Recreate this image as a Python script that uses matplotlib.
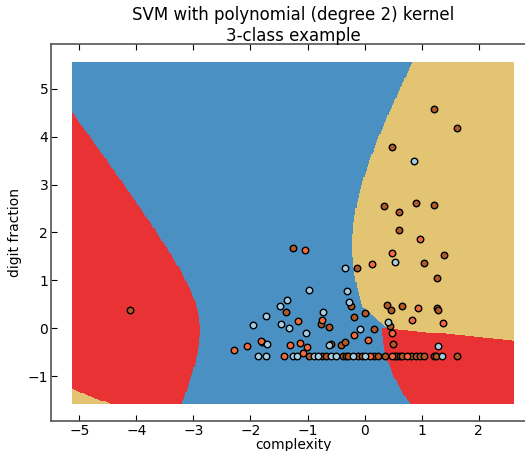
import numpy as np
import matplotlib
matplotlib.use('Agg')
import matplotlib.pyplot as plt
from matplotlib.colors import ListedColormap

# samples per class: complexity (x) / digit fraction (y)
brown_x = [-4.11, -1.38, -1.80, -0.245, -0.77, -0.63, -0.19, 0.015, 0.17, -0.59,
           -0.42, -0.34, 0.40, 0.47, 0.66, 1.27, 1.29, 0.45, 0.50, 1.22,
           1.62, 0.478, 0.349, 0.894, 1.22, 0.606, 0.606, 1.39, 1.045, -0.137,
           1.27, -1.25,
           -0.98, -0.75, -0.68, -0.38, -0.32, -0.29, -0.11, -0.05, 0.167, 0.237,
           0.355, 0.53, 0.565, 0.618, 0.665, 0.82, 0.90, 0.975, 1.045, 1.215,
           1.255, 1.62]
brown_y = [0.38, 0.34, -0.28, 0.46, 0.085, 0.02, 0.24, 0.32, -0.02, -0.32,
           -0.34, -0.29, 0.49, 0.39, 0.47, 0.43, 0.38, 0.05, -0.32, 4.58,
           4.19, 3.78, 2.55, 2.61, 2.58, 2.42, 2.06, 1.53, 1.37, 1.25,
           1.05, 1.68,
           -0.58, -0.58, -0.58, -0.58, -0.58, -0.58, -0.58, -0.58, -0.58, -0.58,
           -0.58, -0.58, -0.58, -0.58, -0.58, -0.58, -0.58, -0.58, -0.58, -0.58,
           -0.58, -0.58]

orange_x = [-1.17, -1.82, -2.06, -2.29, -1.30, -1.13, -0.75, -0.18, 0.056, -1.01,
            -1.08, 0.945, 0.83, 1.37, 0.48, 0.975, 0.483, 0.138, -1.05,
            -1.41, 0.097, 0.478, 0.74]
orange_y = [0.16, -0.27, -0.38, -0.46, -0.36, -0.30, 0.17, -0.15, -0.25, -0.39,
            -0.51, 0.42, 0.17, 0.11, -0.09, 1.87, 1.57, 1.35, 1.64,
            -0.58, -0.58, -0.58, -0.58]

blue_x = [-1.366, -1.49, -1.72, -1.95, -1.47, -1.32, -1.71, -0.98, -0.31, -0.28,
          -0.72, -1.03, -0.08, -0.63, 0.41, 1.29, 0.864, 0.525, -0.342,
          -1.87, -1.73, -1.26, -1.19, -0.89, -0.82, -0.58, -0.50, -0.20, 0.015,
          1.36]
blue_y = [0.60, 0.46, 0.26, 0.07, 0.09, 0.00, -0.32, 0.79, 0.78, 0.54,
          0.34, -0.09, -0.01, -0.36, 0.13, -0.38, 3.49, 1.39, 1.25,
          -0.58, -0.58, -0.58, -0.58, -0.58, -0.58, -0.58, -0.58, -0.58, -0.58,
          -0.58]

region_colors = ['#4a90c2', '#e83234', '#e3c473']   # blue, red, yellow


def predict(xx, yy):
    # degree-2 decision regions, approximated by conic boundaries
    z = np.zeros(xx.shape, dtype=int)
    u = yy - 0.2
    c = 0.504
    x_left = -2.9 + c - np.sqrt(c**2 + 0.25 * u**2) - 0.12 * u
    z[xx < x_left] = 1
    z[yy < -1.27 - 0.47 * (xx + 5.12)] = 2
    v = yy - 1.6
    x_yel = np.maximum(-0.215 + np.sqrt(1.15 + 0.25 * v**2) - np.sqrt(1.15) - 0.03 * v,
                       0.39 - 0.93 * yy)
    y_ry = 0.05 - 0.12 * xx
    x_red = 0.3 + 0.19 * np.minimum(yy - 0.05, 0)**2
    z[(xx > x_yel) & (yy > y_ry)] = 2
    z[(xx > x_red) & (yy <= y_ry)] = 1
    return z


all_x = np.array(brown_x + orange_x + blue_x)
all_y = np.array(brown_y + orange_y + blue_y)
x_min, x_max = all_x.min() - 1, all_x.max() + 1
y_min, y_max = all_y.min() - 1, all_y.max() + 1
h = 0.02
xx, yy = np.meshgrid(np.arange(x_min, x_max, h), np.arange(y_min, y_max, h))
Z = predict(xx, yy)

fig = plt.figure(figsize=(5.25, 4.51), dpi=100)
ax = fig.add_axes([0.0971, 0.0665, 0.924, 0.836])
ax.pcolormesh(xx, yy, Z, cmap=ListedColormap(region_colors), vmin=0, vmax=2, shading='auto')

ax.scatter(brown_x, brown_y, c='#b15928', edgecolors='k', s=22, linewidths=1, zorder=3)
ax.scatter(orange_x, orange_y, c='#f46a3c', edgecolors='k', s=22, linewidths=1, zorder=3)
ax.scatter(blue_x, blue_y, c='#a6cee3', edgecolors='k', s=22, linewidths=1, zorder=3)

mx = 0.05 * (x_max - x_min)
my = 0.05 * (y_max - y_min)
ax.set_xlim(x_min - mx, x_max + mx)
ax.set_ylim(y_min - my, y_max + my)
ax.set_xticks(range(-5, 3))
ax.set_yticks(range(-1, 6))
ax.tick_params(direction='in', top=True, right=False, length=4, labelsize=10, pad=2)
for s in ax.spines.values():
    s.set_color('#555555')
    s.set_linewidth(1.2)

ax.set_title('SVM with polynomial (degree 2) kernel\n3-class example', fontsize=12, pad=2)
ax.set_xlabel('complexity', fontsize=10, labelpad=0)
ax.set_ylabel('digit fraction', fontsize=10)

fig.savefig('out.png', dpi=100)
